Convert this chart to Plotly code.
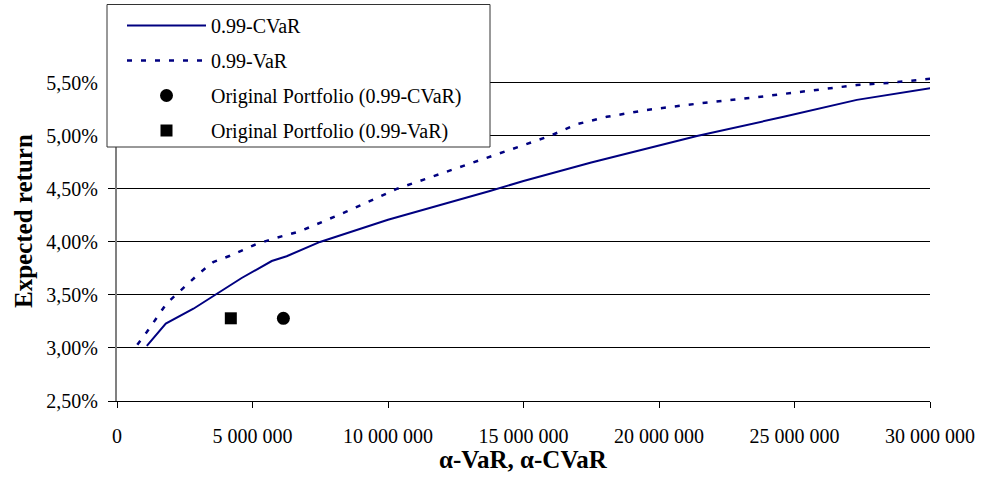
import plotly.graph_objects as go

# ---- data ----
cvar_x = [1.10e6, 1.80e6, 2.82e6, 3.62e6, 4.60e6, 5.71e6, 6.26e6, 7.49e6, 10.0e6,
          13.76e6, 15.0e6, 17.5e6, 21.4e6, 24.6e6, 27.3e6, 30.25e6]
cvar_y = [3.02, 3.23, 3.37, 3.50, 3.66, 3.82, 3.865, 4.00, 4.21,
          4.48, 4.575, 4.75, 5.00, 5.18, 5.34, 5.46]

var_x = [0.75e6, 1.10e6, 1.83e6, 2.20e6, 3.06e6, 3.55e6, 4.17e6, 5.15e6, 5.89e6,
         6.75e6, 8.5e6, 10.32e6, 12.0e6, 13.76e6, 15.98e6, 16.96e6, 18.07e6,
         19.55e6, 21.6e6, 23.6e6, 25.57e6, 27.3e6, 28.5e6, 30.06e6]
var_y = [3.03, 3.15, 3.42, 3.51, 3.71, 3.81, 3.87, 3.98, 4.04,
         4.10, 4.29, 4.50, 4.65, 4.80, 5.00, 5.11, 5.18,
         5.245, 5.31, 5.365, 5.43, 5.48, 5.50, 5.54]

orig_cvar_x = [6.14e6]
orig_cvar_y = [3.28]
orig_var_x = [4.20e6]
orig_var_y = [3.28]

x_tickvals = [0, 5e6, 10e6, 15e6, 20e6, 25e6, 30e6]
x_ticktext = ["0", "5 000 000", "10 000 000", "15 000 000", "20 000 000", "25 000 000", "30 000 000"]
y_tickvals = [2.5, 3.0, 3.5, 4.0, 4.5, 5.0, 5.5]
y_ticktext = ["2,50%", "3,00%", "3,50%", "4,00%", "4,50%", "5,00%", "5,50%"]

x_title = "<b>α-VaR, α-CVaR</b>"
y_title = "<b>Expected return</b>"

NAVY = "#000080"
FONT = "Liberation Serif, Times New Roman, serif"

W, H = 981, 484
PL, PR, PT, PB = 117, 930, 67, 401          # plot area in pixels
L, T, R, B = PL, PT, W - PR, H - PB
PW, PH = W - L - R, H - T - B


def px_x(p):
    return (p - L) / PW


def px_y(p):
    return (H - B - p) / PH


fig = go.Figure()
fig.add_trace(go.Scatter(x=cvar_x, y=cvar_y, mode="lines", name="0.99-CVaR",
                         line=dict(color=NAVY, width=2), legendgroup="a"))
fig.add_trace(go.Scatter(x=var_x, y=var_y, mode="lines", name="0.99-VaR",
                         line=dict(color=NAVY, width=2.5, dash="5px,9px"), legendgroup="b"))
fig.add_trace(go.Scatter(x=orig_cvar_x, y=orig_cvar_y, mode="markers",
                         name="Original Portfolio (0.99-CVaR)",
                         marker=dict(symbol="circle", size=13, color="black"), legendgroup="c"))
fig.add_trace(go.Scatter(x=orig_var_x, y=orig_var_y, mode="markers",
                         name="Original Portfolio (0.99-VaR)",
                         marker=dict(symbol="square", size=12, color="black"), legendgroup="d"))

# legend frame
fig.add_shape(type="rect", xref="paper", yref="paper",
              x0=px_x(107), x1=px_x(490), y0=px_y(147), y1=px_y(4.5),
              fillcolor="white", line=dict(color="#333333", width=1), layer="above")

# axis titles
fig.add_annotation(text=x_title, xref="paper", yref="paper", x=px_x(523.5), y=px_y(459),
                   xanchor="center", yanchor="middle", showarrow=False,
                   font=dict(family=FONT, size=25, color="black"))
fig.add_annotation(text=y_title, xref="paper", yref="paper", x=px_x(23), y=px_y(221),
                   xanchor="center", yanchor="middle", showarrow=False, textangle=-90,
                   font=dict(family=FONT, size=25, color="black"))

fig.update_layout(
    width=W, height=H,
    margin=dict(l=L, r=R, t=T, b=B, autoexpand=False),
    paper_bgcolor="white", plot_bgcolor="white",
    font=dict(family=FONT, size=20, color="black"),
    legend=dict(x=px_x(122), y=px_y(6), xanchor="left", yanchor="top",
                bgcolor="rgba(0,0,0,0)", borderwidth=0,
                font=dict(family=FONT, size=20), itemwidth=79,
                tracegroupgap=6),
    xaxis=dict(range=[0, 30e6], tickvals=x_tickvals, ticktext=x_ticktext,
               showgrid=False, zeroline=False, showline=True, linecolor="black",
               linewidth=1, ticks="outside", ticklen=6, tickcolor="black",
               ticklabelstandoff=11, automargin=False),
    yaxis=dict(range=[2.5, 5.65], tickvals=y_tickvals, ticktext=y_ticktext,
               showgrid=True, gridcolor="black", gridwidth=1, zeroline=False,
               showline=True, linecolor="#808080", linewidth=2,
               ticks="outside", ticklen=7, tickcolor="black",
               ticklabelstandoff=6, automargin=False),
    showlegend=True,
)

fig.write_html("out.html", config={"displayModeBar": False},
               post_script="document.body.style.margin='0';")
